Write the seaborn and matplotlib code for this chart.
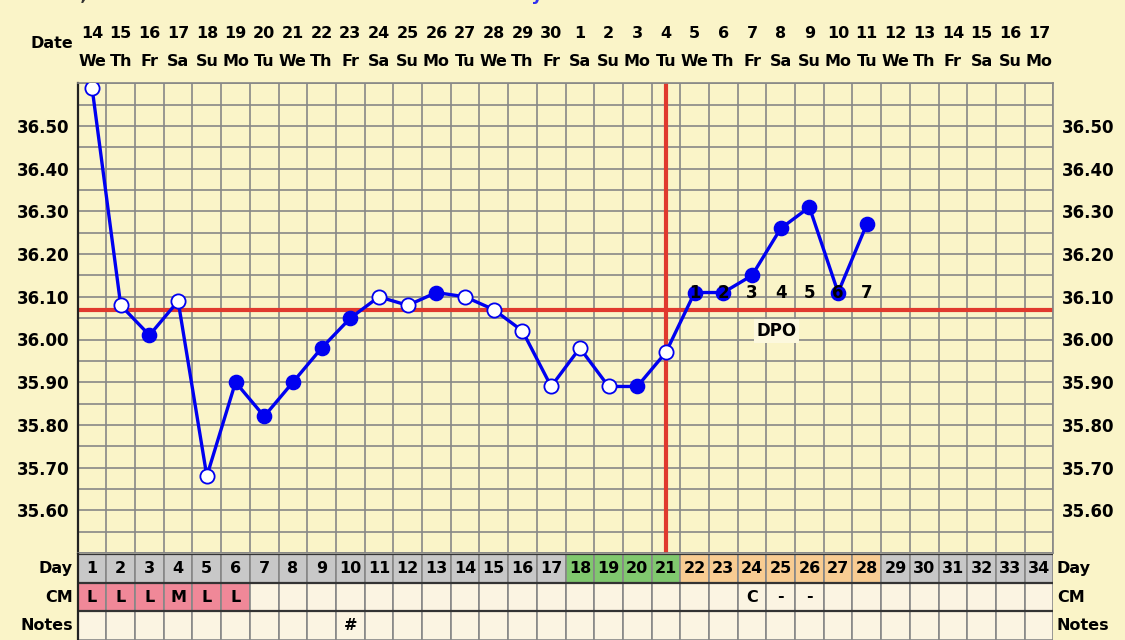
import matplotlib
matplotlib.use('Agg')
import matplotlib.pyplot as plt
import matplotlib.transforms as mtrans
import numpy as np
import pandas as pd
import seaborn as sns

# 数据
cycle_days = list(range(1, 35))
date_labels = [str(d) for d in range(14, 31)] + [str(d) for d in range(1, 18)]
weekday_labels = (['We', 'Th', 'Fr', 'Sa', 'Su', 'Mo', 'Tu'] * 5)[:34]
temps = [36.59, 36.08, 36.01, 36.09, 35.68, 35.90, 35.82, 35.90, 35.98, 36.05,
         36.10, 36.08, 36.11, 36.10, 36.07, 36.02, 35.89, 35.98, 35.89, 35.89,
         35.97, 36.11, 36.11, 36.15, 36.26, 36.31, 36.11, 36.27]
open_point = [1, 1, 0, 1, 1, 0, 0, 0, 0, 0,
              1, 1, 0, 1, 1, 1, 1, 1, 1, 0,
              1, 0, 0, 0, 0, 0, 0, 0]
coverline = 36.07
ovulation_day = 21
dpo_labels = ['1', '2', '3', '4', '5', '6', '7']
dpo_days = [22, 23, 24, 25, 26, 27, 28]
fertile_days = [18, 19, 20, 21]
luteal_days = [22, 23, 24, 25, 26, 27, 28]
cm_days = [1, 2, 3, 4, 5, 6, 24, 25, 26]
cm_labels = ['L', 'L', 'L', 'M', 'L', 'L', 'C', '-', '-']
period_days = [1, 2, 3, 4, 5, 6]
note_days = [10]
note_labels = ['#']
ytick_vals = [36.50, 36.40, 36.30, 36.20, 36.10, 36.00, 35.90, 35.80, 35.70, 35.60]

bg = '#FAF4C8'
cream = '#FBF4E2'
grid_c = '#878787'
blue = '#0000F0'
red = '#E0392E'

sns.set_style('white')
plt.rcParams['font.family'] = ['DejaVu Sans']
plt.rcParams['font.weight'] = 'bold'
plt.rcParams['text.color'] = 'black'
plt.rcParams['ytick.color'] = 'black'
plt.rcParams['ytick.labelcolor'] = 'black'

df = pd.DataFrame({'day': cycle_days[:len(temps)], 'temp': temps, 'open': open_point})

fig = plt.figure(figsize=(11.25, 6.4), dpi=100, facecolor=bg)
L, R = 77.7 / 1125, 1053.3 / 1125
ax = fig.add_axes([L, 1 - 553 / 640, R - L, (553 - 83.3) / 640])
ax.set_facecolor(bg)

# 网格
for x in np.arange(0.5, 35, 1):
    ax.axvline(x, color=grid_c, lw=1.2, zorder=1)
for y in np.arange(35.50, 36.61, 0.05):
    ax.axhline(y, color=grid_c, lw=1.2, zorder=1)

ax.axhline(coverline, color=red, lw=3, zorder=2)
ax.axvline(ovulation_day, color=red, lw=3, zorder=2)

sns.lineplot(data=df, x='day', y='temp', color=blue, lw=2.4, ax=ax, zorder=3)
sns.scatterplot(data=df[df['open'] == 0], x='day', y='temp', color=blue, s=105,
                edgecolor=blue, linewidth=1, ax=ax, zorder=4)
sns.scatterplot(data=df[df['open'] == 1], x='day', y='temp', color='white', s=105,
                edgecolor=blue, linewidth=1.3, ax=ax, zorder=4)

for d, lab in zip(dpo_days, dpo_labels):
    ax.text(d, 36.11, lab, ha='center', va='center', fontsize=12, fontweight='bold',
            color='black', zorder=5)
ax.text(24.85, 36.02, 'DPO', ha='center', va='center', fontsize=12, fontweight='bold',
        zorder=5, bbox=dict(facecolor='#FCF8DE', edgecolor='none', pad=2))

ax.set_xlim(0.5, 34.5)
ax.set_ylim(35.50, 36.60)
ax.set_xticks([])
ax.set_yticks(ytick_vals)
ax.set_yticklabels(['%.2f' % v for v in ytick_vals], fontsize=12, fontweight='bold')
ax.tick_params(axis='y', length=0, pad=6, labelright=True, labelcolor='black')
ax.set_xlabel('')
ax.set_ylabel('')
for s in ['top', 'right', 'bottom']:
    ax.spines[s].set_color(grid_c)
    ax.spines[s].set_linewidth(1.2)
ax.spines['left'].set_color('#222222')
ax.spines['left'].set_linewidth(1.6)

# 日期
tr = mtrans.blended_transform_factory(ax.transData, fig.transFigure)
for d, dl, wd in zip(cycle_days, date_labels, weekday_labels):
    ax.text(d, 1 - 33 / 640, dl, transform=tr, ha='center', va='center',
            fontsize=11.5, fontweight='bold')
    ax.text(d, 1 - 62 / 640, wd, transform=tr, ha='center', va='center',
            fontsize=11.5, fontweight='bold')
fig.text(73 / 1125, 1 - 43 / 640, 'Date', ha='right', va='center', fontsize=11.5,
         fontweight='bold')

# 标题（被裁切）
fig.text(10 / 1125, 1 - 4 / 640, 'Nov 14, 2023', ha='left', va='bottom', fontsize=13,
         fontweight='bold', color='#333333')
fig.text(463 / 1125, 1 - 4 / 640, 'FertilityFriend.com', ha='left', va='bottom',
         fontsize=13, fontweight='bold', color='#3030F0')

# 表格
tx = fig.add_axes([L, 0, R - L, 86 / 640])
tx.set_facecolor(cream)
day_colors = []
for d in cycle_days:
    if d in fertile_days:
        day_colors.append('#80C86E')
    elif d in luteal_days:
        day_colors.append('#F8CC92')
    else:
        day_colors.append('#C8C8C8')
cm_colors = ['#F08898' if d in period_days else cream for d in cycle_days]
tx.bar(cycle_days, 1, bottom=2, width=1, color=day_colors, edgecolor=grid_c, linewidth=1.2)
tx.bar(cycle_days, 1, bottom=1, width=1, color=cm_colors, edgecolor=grid_c, linewidth=1.2)
tx.bar(cycle_days, 1, bottom=0, width=1, color=cream, edgecolor=grid_c, linewidth=1.2)
for y in [3, 2, 1]:
    tx.axhline(y, color='#333333', lw=1.6)
for d in cycle_days:
    tx.text(d, 2.5, str(d), ha='center', va='center', fontsize=11.5, fontweight='bold')
for d, lab in zip(cm_days, cm_labels):
    tx.text(d, 1.5, lab, ha='center', va='center', fontsize=11.5, fontweight='bold')
for d, lab in zip(note_days, note_labels):
    tx.text(d, 0.5, lab, ha='center', va='center', fontsize=11.5, fontweight='bold')
tx.set_xlim(0.5, 34.5)
tx.set_ylim(0, 3)
tx.set_xticks([])
tx.set_yticks([])
for s in tx.spines.values():
    s.set_visible(False)
tx.spines['left'].set_visible(True)
tx.spines['left'].set_color('#222222')
tx.spines['left'].set_linewidth(1.6)

ttr = mtrans.blended_transform_factory(fig.transFigure, tx.transData)
for y, lab in zip([2.5, 1.5, 0.5], ['Day', 'CM', 'Notes']):
    tx.text(73 / 1125, y, lab, transform=ttr, ha='right', va='center', fontsize=11.5,
            fontweight='bold')
    tx.text(1057 / 1125, y, lab, transform=ttr, ha='left', va='center', fontsize=11.5,
            fontweight='bold')

fig.savefig('out.png', dpi=100, facecolor=bg)
